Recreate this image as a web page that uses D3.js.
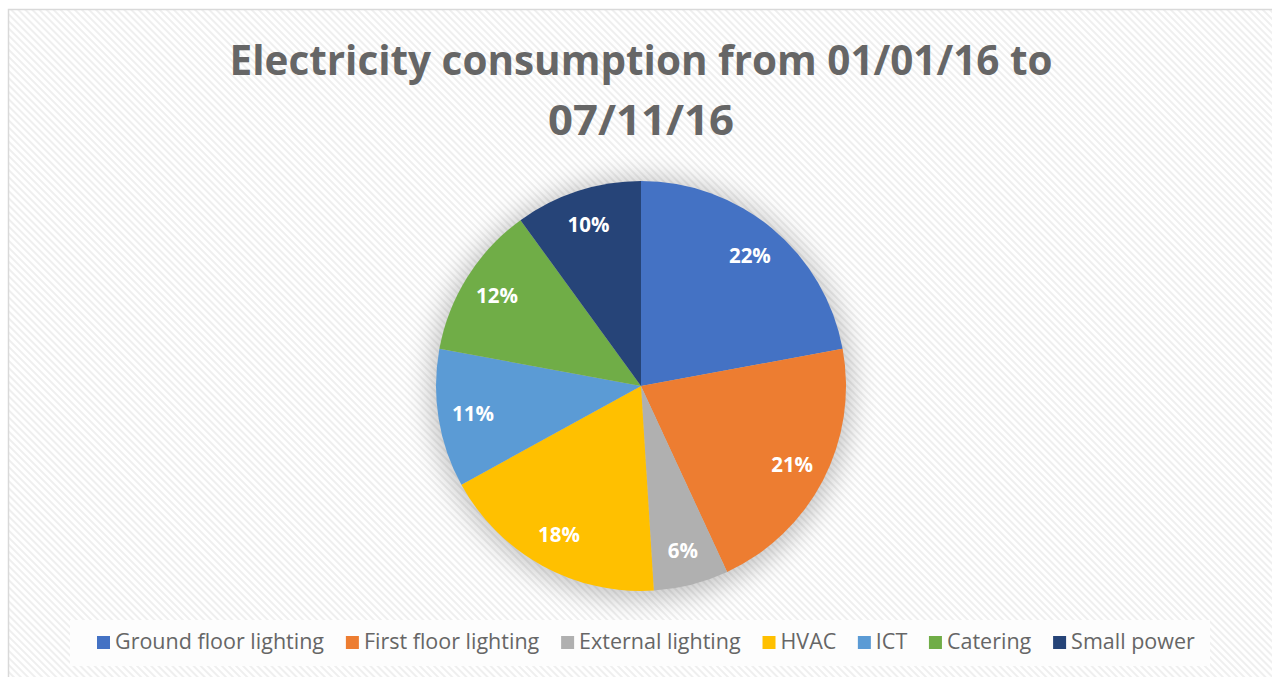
<!DOCTYPE html>
<html>
<head>
<meta charset="utf-8">
<script src="https://cdn.jsdelivr.net/npm/d3@7"></script>
<style>
  html, body { margin: 0; padding: 0; background: #ffffff; }
  svg { display: block; }
</style>
</head>
<body>
<svg id="chart" width="1272" height="677"></svg>
<script>
// ---- data ----
const categories = ["Ground floor lighting", "First floor lighting", "External lighting", "HVAC", "ICT", "Catering", "Small power"];
const shares = [22.1, 21.0, 5.9, 18.0, 10.9, 12.1, 10.0];
const labels = ["22%", "21%", "6%", "18%", "11%", "12%", "10%"];
const colors = ["#4472C4", "#ED7D31", "#B0B0B0", "#FFC000", "#5B9BD5", "#70AD47", "#264478"];
const titleLines = ["Electricity consumption from 01/01/16 to", "07/11/16"];

const W = 1272, H = 677;
const svg = d3.select("#chart");
const defs = svg.append("defs");

// striped background pattern
const pat = defs.append("pattern")
  .attr("id", "stripes").attr("patternUnits", "userSpaceOnUse")
  .attr("width", 5).attr("height", 5)
  .attr("patternTransform", "rotate(-45)");
pat.append("rect").attr("width", 5).attr("height", 5).attr("fill", "#ffffff");
pat.append("rect").attr("width", 2).attr("height", 5).attr("fill", "#efefef");

const blur = defs.append("filter").attr("id", "shadow")
  .attr("x", "-30%").attr("y", "-30%").attr("width", "160%").attr("height", "160%");
blur.append("feGaussianBlur").attr("stdDeviation", 13);

svg.append("rect").attr("width", W).attr("height", H).attr("fill", "#ffffff");
svg.append("rect").attr("x", 8.5).attr("y", 9.5).attr("width", W + 10).attr("height", H + 10)
  .attr("fill", "url(#stripes)").attr("stroke", "#d9d9d9").attr("stroke-width", 1.5);

// title
const font = "'Open Sans', 'Liberation Sans', sans-serif";
const tg = svg.append("g");
const titleY = [75, 135];
const titleW = [823, 186];
titleLines.forEach((t, i) => {
  tg.append("text")
    .attr("x", 641).attr("y", titleY[i])
    .attr("text-anchor", "middle")
    .attr("font-family", font).attr("font-weight", 700)
    .attr("font-size", 42)
    .attr("fill", "#666666")
    .attr("textLength", titleW[i]).attr("lengthAdjust", "spacingAndGlyphs")
    .text(t);
});

// pie
const cx = 641, cy = 386, R = 205;
const pie = d3.pie().sort(null).value(d => d)(shares);
const arc = d3.arc().innerRadius(0).outerRadius(R);
const labelArc = d3.arc().innerRadius(R * 0.83).outerRadius(R * 0.83);

const pg = svg.append("g").attr("transform", `translate(${cx},${cy})`);
pg.append("circle").attr("r", R + 6).attr("cx", 0).attr("cy", 3)
  .attr("fill", "#000").attr("opacity", 0.22).attr("filter", "url(#shadow)");
pg.selectAll("path.slice").data(pie).join("path")
  .attr("class", "slice")
  .attr("d", arc)
  .attr("fill", (d, i) => colors[i]);
pg.selectAll("text.lbl").data(pie).join("text")
  .attr("class", "lbl")
  .attr("transform", d => `translate(${labelArc.centroid(d)})`)
  .attr("text-anchor", "middle").attr("dy", "0.36em")
  .attr("font-family", font).attr("font-weight", 700)
  .attr("font-size", 20.5).attr("fill", "#ffffff")
  .text((d, i) => labels[i]);

// legend
svg.append("rect").attr("x", 70).attr("y", 620).attr("width", 1140).attr("height", 46)
  .attr("fill", "#fdfdfd");
const lg = svg.append("g");
const items = lg.selectAll("g.item").data(categories).join("g").attr("class", "item");
items.append("rect").attr("width", 13).attr("height", 13).attr("y", -13)
  .attr("fill", (d, i) => colors[i]);
items.append("text").attr("x", 18).attr("y", 0)
  .attr("font-family", font).attr("font-size", 21.5)
  .attr("fill", "#666666").text(d => d);
// layout: measure and fill target span with equal gaps
const targetStart = 97, targetEnd = 1195;
const widths = [];
items.each(function () { widths.push(this.getBBox().width); });
const gap = (targetEnd - targetStart - d3.sum(widths)) / (widths.length - 1);
let x = targetStart;
items.each(function (d, i) {
  d3.select(this).attr("transform", `translate(${x},649)`);
  x += widths[i] + gap;
});
</script>
</body>
</html>
